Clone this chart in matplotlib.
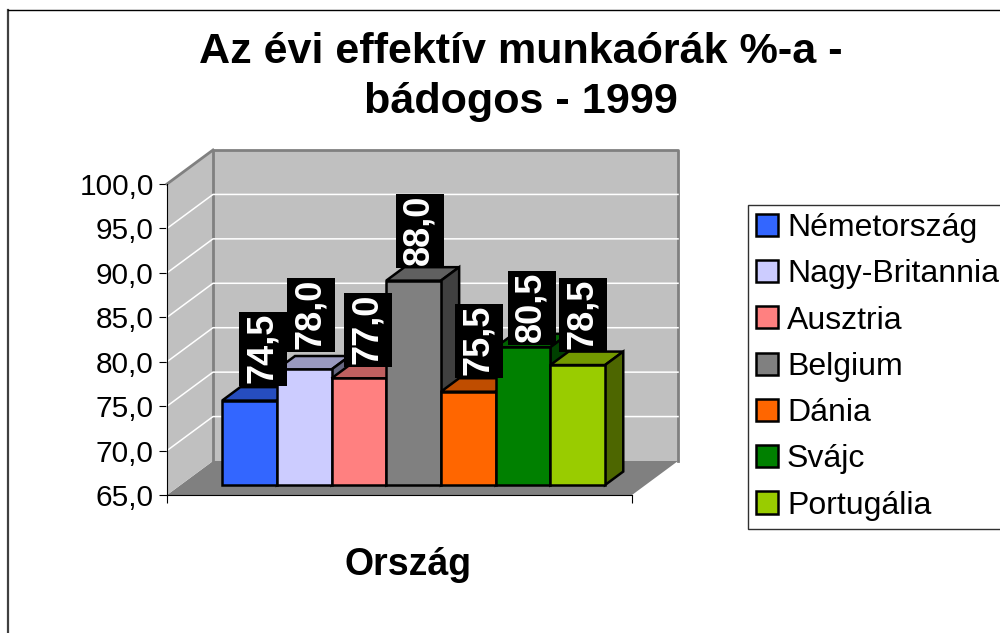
import matplotlib
matplotlib.use("Agg")
import matplotlib.pyplot as plt
from matplotlib.colors import to_rgb
from matplotlib.lines import Line2D
from matplotlib.patches import Patch, Polygon, Rectangle
from matplotlib.transforms import ScaledTranslation

plt.rcParams['font.family'] = ['Liberation Sans', 'DejaVu Sans']

countries = ['Németország', 'Nagy-Britannia', 'Ausztria', 'Belgium', 'Dánia', 'Svájc', 'Portugália']
values = [74.5, 78.0, 77.0, 88.0, 75.5, 80.5, 78.5]
colors = ['#3366FF', '#CCCCFF', '#FF8080', '#808080', '#FF6600', '#008000', '#99CC00']
yticks = [65, 70, 75, 80, 85, 90, 95, 100]

W, H = 1000, 633
# label boxes dodge each other in the original, offsets in pixels
label_dx = [-4.5, -11, -9, -12, -7, -9, -12.5]
label_dy = [38, 41, 35, 36, 37, 25.5, 36.5]

fig = plt.figure(figsize=(W / 100, H / 100), dpi=100)
ax = fig.add_axes([167 / W, 1 - 495 / H, 465 / W, 311 / H])
ax.set_xlim(-0.76, 7.74)
ax.set_ylim(65, 100)
ax.patch.set_visible(False)

# depth of the 3d box, in axis units
DX = 46 / 54.7
DY = 35 * 34 / 311
D0, D1 = 0.294, 0.69
x0, x1 = ax.get_xlim()
y0, y1 = ax.get_ylim()


def proj(x, y, d):
    return (x + d * DX, y + d * DY)


def shade(c, f):
    return tuple(v * f for v in to_rgb(c))


def poly(pts, fc, ec='none', lw=0, z=1):
    ax.add_patch(Polygon(pts, closed=True, facecolor=fc, edgecolor=ec, linewidth=lw,
                         zorder=z, clip_on=False, joinstyle='miter'))


# walls and floor
poly([proj(x0, y0, 0), proj(x1, y0, 0), proj(x1, y0, 1), proj(x0, y0, 1)], '#808080', z=1)
poly([proj(x0, y0, 0), proj(x0, y1, 0), proj(x0, y1, 1), proj(x0, y0, 1)], '#C0C0C0', z=1)
poly([proj(x0, y0, 1), proj(x1, y0, 1), proj(x1, y1, 1), proj(x0, y1, 1)], '#C0C0C0', z=1)
ax.plot(*zip(proj(x0, y0, 1), proj(x0, y1, 1), proj(x1, y1, 1), proj(x1, y0, 1)),
        color='#808080', lw=2, zorder=2, clip_on=False)
ax.plot(*zip(proj(x0, y1, 0), proj(x0, y1, 1)), color='#808080', lw=2, zorder=2, clip_on=False)

# gridlines on both walls
for t in yticks[1:-1]:
    ax.plot(*zip(proj(x0, t, 0), proj(x0, t, 1), proj(x1, t, 1)), color='white', lw=1.1,
            zorder=2, clip_on=False)

# bars, left to right so the next front covers the previous side
for i, (v, c) in enumerate(zip(values, colors)):
    z = 3 + i
    l, r = i, i + 1
    poly([proj(l, v, D0), proj(r, v, D0), proj(r, v, D1), proj(l, v, D1)], shade(c, 0.75), 'k', 1.8, z)
    poly([proj(r, y0, D0), proj(r, v, D0), proj(r, v, D1), proj(r, y0, D1)], shade(c, 0.5), 'k', 1.8, z)
    fx, fy = proj(l, y0, D0)
    ax.bar(fx, v - y0, width=1, bottom=fy, align='edge', color=c, edgecolor='k', linewidth=1.8,
           zorder=z, clip_on=False)

# black label boxes are wider than the text's own bbox, so they are drawn apart
box_w = 48 / 54.7
box_h = 74 * 35 / 311
for i, v in enumerate(values):
    px, py = proj(i + 0.5, v, D1)
    shift = ScaledTranslation(label_dx[i] / 100, label_dy[i] / 100, fig.dpi_scale_trans)
    ax.add_patch(Rectangle((px - box_w / 2, py - box_h / 2), box_w, box_h, facecolor='k', edgecolor='none',
                           transform=ax.transData + shift, zorder=20, clip_on=False))
    ax.annotate(f'{v:.1f}'.replace('.', ','), (px, py),
                xytext=((label_dx[i] - 1) * 0.72, (label_dy[i] + 1) * 0.72), textcoords='offset points',
                rotation=90, ha='center', va='center', fontsize=26, fontweight='bold', color='white',
                zorder=21, annotation_clip=False)

for s in ['top', 'right']:
    ax.spines[s].set_visible(False)
ax.set_yticks(yticks)
ax.set_yticklabels([f'{t:.1f}'.replace('.', ',') for t in yticks], fontsize=21.5)
ax.set_xticks([x0, x1])
ax.set_xticklabels([])
ax.tick_params(length=5.5, width=0.8, pad=4)
ax.set_xlabel('Ország', fontsize=27, fontweight='bold', x=0.518, labelpad=28)

fig.text(521 / W, 1 - 77 / H, 'Az évi effektív munkaórák %-a -\nbádogos - 1999', ha='center', va='center',
         fontsize=31.1, fontweight='bold', linespacing=1.32)

handles = [Patch(facecolor=c, edgecolor='k', linewidth=1.8) for c in colors]
leg = fig.legend(handles, countries, loc='upper left', bbox_to_anchor=(748 / W, 1 - 205 / H),
                 bbox_transform=fig.transFigure, fontsize=23, frameon=True, fancybox=False,
                 edgecolor='#303030', framealpha=1, handlelength=0.69, handleheight=0.69,
                 handletextpad=0.28, labelspacing=0.51, borderpad=0.25, borderaxespad=0)
leg.get_frame().set_linewidth(1)

# chart border, cut off by the image on the right and at the bottom
fig.add_artist(Line2D([8 / W, 8 / W], [0, 1 - 10 / H], color='#404040', lw=1.6))
fig.add_artist(Line2D([8 / W, 1], [1 - 10 / H, 1 - 10 / H], color='k', lw=1))

fig.savefig('out.png', dpi=100)
